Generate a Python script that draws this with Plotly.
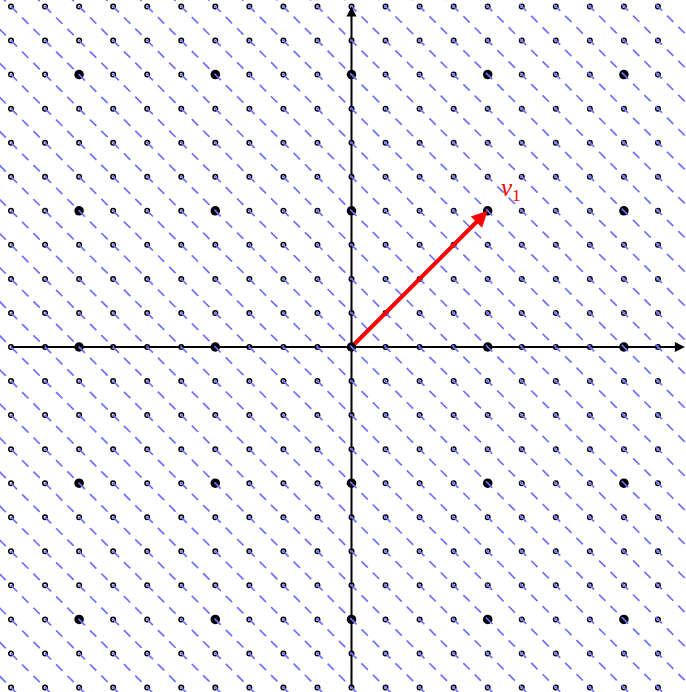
import plotly.graph_objects as go

# ---- data ----
lattice = list(range(-10, 11))          # small lattice coordinates
coarse_step = 4                         # coarse lattice spacing
v1 = [4, 4]                             # red vector
line_offsets = list(range(-20, 21))     # lines x + y = k
x_axis_end = 9.79
y_axis_end = 10.0
axis_start = -10

# ---- build traces ----
sx, sy, bx, by = [], [], [], []
for i in lattice:
    for j in lattice:
        if i % coarse_step == 0 and j % coarse_step == 0:
            bx.append(i); by.append(j)
        else:
            sx.append(i); sy.append(j)

lx, ly = [], []
for k in line_offsets:
    x0, x1 = -12, 12
    lx += [x0, x1, None]
    ly += [k - x0, k - x1, None]

fig = go.Figure()
fig.add_trace(go.Scatter(x=sx, y=sy, mode="markers",
                         marker=dict(size=4.5, color="white",
                                     line=dict(color="black", width=1.5)),
                         hoverinfo="skip"))
fig.add_trace(go.Scatter(x=bx, y=by, mode="markers",
                         marker=dict(size=9.5, color="black"),
                         hoverinfo="skip"))
# axes lines
fig.add_trace(go.Scatter(x=[axis_start, x_axis_end - 0.2], y=[0, 0], mode="lines",
                         line=dict(color="black", width=2), hoverinfo="skip"))
fig.add_trace(go.Scatter(x=[0, 0], y=[axis_start, y_axis_end - 0.2], mode="lines",
                         line=dict(color="black", width=2), hoverinfo="skip"))
# dashed blue lines
fig.add_trace(go.Scatter(x=lx, y=ly, mode="lines",
                         line=dict(color="#6f6fff", width=1.7, dash="9px,7px"),
                         hoverinfo="skip"))

# axis arrowheads
fig.add_annotation(x=x_axis_end, y=0, ax=x_axis_end - 0.5, ay=0,
                   xref="x", yref="y", axref="x", ayref="y", text=" ",
                   showarrow=True, arrowhead=2, arrowsize=1.0, arrowwidth=2,
                   arrowcolor="black")
fig.add_annotation(x=0, y=y_axis_end, ax=0, ay=y_axis_end - 0.5,
                   xref="x", yref="y", axref="x", ayref="y", text=" ",
                   showarrow=True, arrowhead=2, arrowsize=1.0, arrowwidth=2,
                   arrowcolor="black")
# red vector
fig.add_annotation(x=v1[0], y=v1[1], ax=0, ay=0,
                   xref="x", yref="y", axref="x", ayref="y", text=" ",
                   showarrow=True, arrowhead=2, arrowsize=0.8, arrowwidth=4,
                   arrowcolor="red")
fig.add_annotation(x=4.68, y=4.62, xref="x", yref="y",
                   text="<i>v</i><sub>1</sub>", showarrow=False,
                   font=dict(family="Liberation Serif", size=25, color="red"))

u = 34.05
ox, oy = 351.5, 347
fig.update_layout(
    width=686, height=692,
    margin=dict(l=0, r=0, t=0, b=0),
    paper_bgcolor="white", plot_bgcolor="white",
    showlegend=False,
    xaxis=dict(range=[-ox / u, (686 - ox) / u], visible=False, fixedrange=True),
    yaxis=dict(range=[(oy - 692) / u, oy / u], visible=False, fixedrange=True),
)
fig.write_html("out.html", config={"displayModeBar": False},
               post_script="document.body.style.margin='0';")
